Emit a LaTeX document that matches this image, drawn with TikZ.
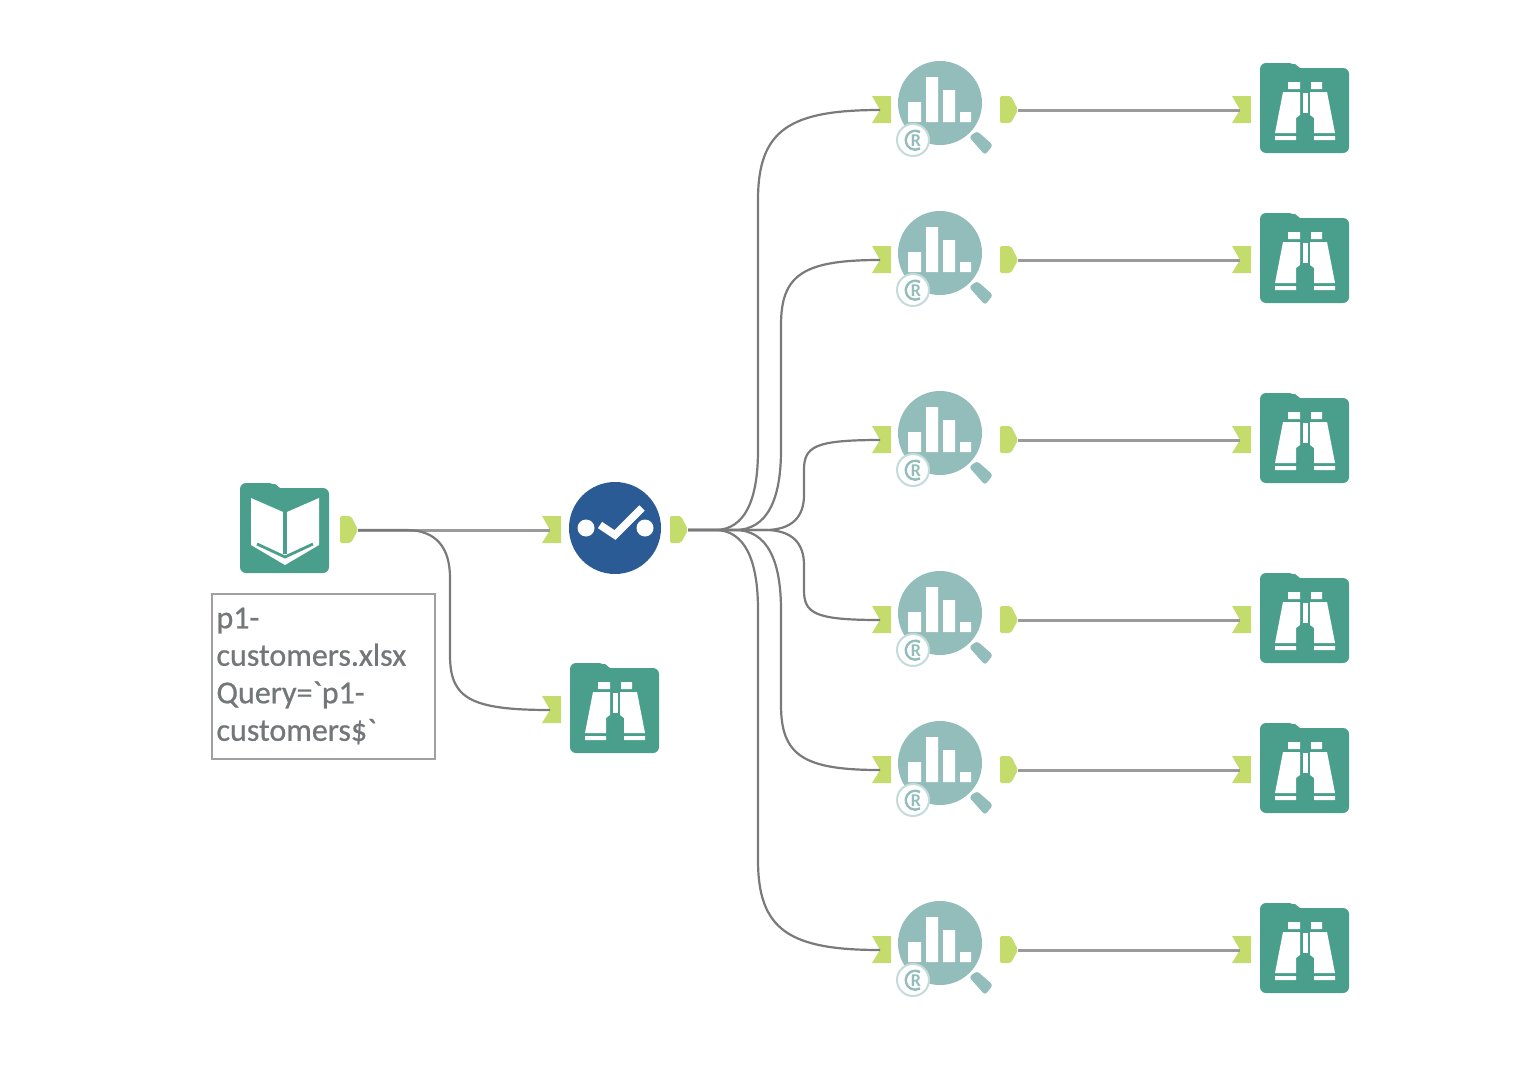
\documentclass[tikz,border=0pt]{standalone}
\usepackage{fontspec}
\usetikzlibrary{calc}
\newfontfamily\lblfont[FakeBold=0.7]{Carlito}
\newfontfamily\markfont{Carlito}
\definecolor{tealdark}{HTML}{4A9E8C}
\definecolor{tealsoft}{HTML}{93BDBB}
\definecolor{portgreen}{HTML}{C3DC6C}
\definecolor{selblue}{HTML}{2B5B94}
\definecolor{wirestraight}{HTML}{9A9A9A}
\definecolor{wirecurve}{HTML}{7A7A7A}
\definecolor{labelgray}{HTML}{737779}
\definecolor{boxgray}{HTML}{A0A0A0}
\tikzset{
  wirelong/.style={draw=wirestraight,line width=1.5pt},
  wirebent/.style={draw=wirecurve,line width=1.1pt},
  folderfill/.style={fill=tealdark,rounded corners=3pt},
  inport/.pic={
    \fill[portgreen] (-8,-14) -- (11,-14) -- (11,13) -- (-8,13) -- (0,0) -- cycle;
    \coordinate (-tip) at (0,0);
  },
  outport/.pic={
    \fill[portgreen,rounded corners=1pt] (-18,-14) -- (-7,-14) -- (0,0) -- (-7,13) -- (-18,13) -- cycle;
    \coordinate (-tip) at (0,0);
  },
  folder/.pic={
    \fill[folderfill] (-45,43) -- (-45,-47) -- (-10,-47) -- (-10,-30) -- (-45,-30) -- cycle;
    \fill[folderfill] (-45,43) -- (-45,-42) -- (44,-42) -- (44,43) -- cycle;
    \fill[tealdark] (-14,-42) -- (-14,-46) -- (-10,-46) -- (-5,-42) -- cycle;
  },
  browse/.pic={
    \pic {folder};
    \fill[white] (-17,-28) rectangle (-5,-21) (6,-28) rectangle (17,-21);
    \fill[white] (-22,-18) -- (-5,-18) -- (-5,5) -- (-9,8) -- (-9,23) -- (-30,23) -- cycle;
    \fill[white] (22,-18) -- (5,-18) -- (5,5) -- (9,8) -- (9,23) -- (30,23) -- cycle;
    \fill[white] (-2.5,-17) rectangle (2.5,3);
    \fill[white] (-30,26) rectangle (-9,30) (9,26) rectangle (30,30);
  },
  bookicon/.pic={
    \pic {folder};
    \fill[white] (-34,-32) -- (-2,-18) -- (2,-18) -- (34,-32) -- (34,15) -- (0,35) -- (-34,15) -- cycle;
    \fill[tealdark] (-2,-18) rectangle (2,24);
    \draw[tealdark,line width=1.4pt] (-28,14) -- (0,27) -- (28,14);
  },
  selector/.pic={
    \fill[selblue] (0,-2) circle (46);
    \fill[white] (-29,-2) circle (8.5) (30,-2) circle (8.5);
    \draw[white,line width=3.8pt] (-15,-5) -- (0,5) -- (27,-22);
  },
  rtool/.pic={
    \fill[tealsoft] (0,-7) circle (42);
    \fill[tealsoft,rounded corners=1.5pt] (29,27) -- (37,21) -- (53,35) -- (45,45) -- cycle;
    \fill[white] (-32,-8) rectangle (-19,12) (-14,-33) rectangle (-2,12) (3,-20) rectangle (15,12) (20,2) rectangle (31,12);
    \filldraw[fill=white,draw=tealsoft!55,line width=1pt] (-27,30) circle (16);
    \draw[tealsoft,line width=1.2pt] (-20,22) arc[start angle=-60,end angle=-300,radius=9.5];
    \node[text=tealsoft,font=\markfont\bfseries\fontsize{9}{9}\selectfont,inner sep=0pt] (-rmark) at (-24,31) {R};
  }
}
% #1 start, #2 end, #3 x of the vertical part relative to start (px), #4 length of the flat start (px),
% #5 signed start reach (px, positive = downwards), #6 end reach (px)
\newcommand\bentwire[6]{%
  \pgfmathsetmacro\sgn{#5<0?-1:1}%
  \draw[wirebent] let \p1=(#1), \p2=(#2), \n1={\x1+(#3)*0.5pt}, \n2={\x1+(#4)*0.5pt} in
    (\p1) -- (\n2,\y1)
    .. controls ({\n2+0.7*(\n1-\n2)},\y1) and (\n1,{\y1-0.38*(#5)*0.5pt}) .. (\n1,{\y1-(#5)*0.5pt})
    -- (\n1,{\y2+\sgn*(#6)*0.5pt})
    .. controls (\n1,{\y2+\sgn*0.22*(#6)*0.5pt}) and ({\n1+0.35*(#6)*0.5pt},\y2) .. (\p2);%
}
\begin{document}
\begin{tikzpicture}[x=0.5pt,y=-0.5pt]
\useasboundingbox (0,0) rectangle (1516,1092);
\fill[white] (0,0) rectangle (1516,1092);

\pic (src) at (285,530) {bookicon};
\pic (srcout) at (358,530) {outport};
\pic (selin) at (550,530) {inport};
\pic (sel) at (615,530) {selector};
\pic (selout) at (688,530) {outport};
\pic (bmid) at (615,710) {browse};
\pic (bmidin) at (550,710) {inport};

\node[draw=boxgray,line width=1pt,anchor=north west,minimum width=111.5pt,minimum height=82.5pt,
  align=left,text width=107pt,inner sep=2pt,text=labelgray,
  font=\lblfont\fontsize{16}{18.75}\selectfont] (note) at (211,592.5)
  {p1-\\customers.xlsx\\Query=`p1-\\customers\$`};

\foreach \n/\y in {1/110,2/260,3/440,4/620,5/770,6/950}{
  \pic (rin\n) at (880,\y) {inport};
  \pic (r\n) at (940,\y) {rtool};
  \pic (rout\n) at (1018,\y) {outport};
  \pic (bin\n) at (1240,\y) {inport};
  \pic (b\n) at (1305,\y) {browse};
  \draw[wirelong] (rout\n-tip) -- (bin\n-tip);
}

\draw[wirelong] (srcout-tip) -- (selin-tip);
\bentwire{srcout-tip}{bmidin-tip}{92}{48}{48}{55}
\bentwire{selout-tip}{rin1-tip}{70}{27}{-80}{90}
\bentwire{selout-tip}{rin2-tip}{93}{47}{-80}{65}
\bentwire{selout-tip}{rin3-tip}{116}{77}{-35}{30}
\bentwire{selout-tip}{rin4-tip}{116}{77}{35}{30}
\bentwire{selout-tip}{rin5-tip}{93}{47}{80}{65}
\bentwire{selout-tip}{rin6-tip}{70}{27}{80}{90}
\end{tikzpicture}
\end{document}
